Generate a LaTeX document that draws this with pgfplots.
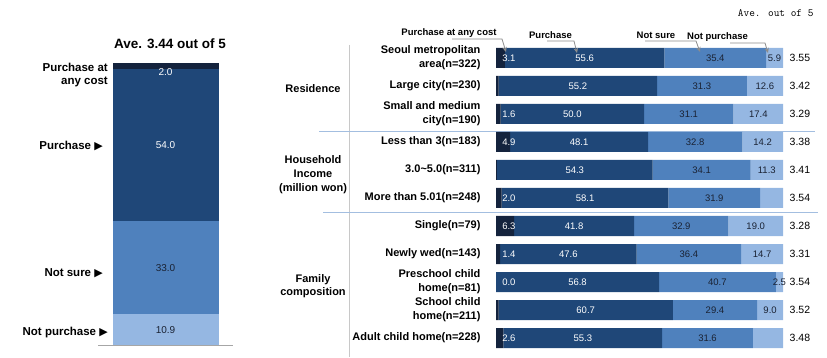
\documentclass[border=0pt]{standalone}
\usepackage{pgfplots}
\pgfplotsset{compat=1.18}
\usepackage{pgfplotstable}
\usepackage{fontspec}
\setmainfont{Liberation Sans}
\newfontfamily\symfont{DejaVu Sans}
\usetikzlibrary{arrows.meta}
\definecolor{cAny}{HTML}{14233D}
\definecolor{cPur}{HTML}{1F4778}
\definecolor{cSure}{HTML}{4F81BD}
\definecolor{cNot}{HTML}{95B7E2}
\definecolor{cTxt}{HTML}{1A2233}
\definecolor{cSep}{HTML}{A3BEE0}
\definecolor{cVl}{HTML}{C8C8C8}
\definecolor{cArr}{HTML}{8C8C8C}

\pgfplotstableread{
row a b c d la lb lc ld avg
0 3.1 55.6 35.4 5.9 3.1 55.6 35.4 5.9 3.55
1 0.9 55.2 31.3 12.6 {} 55.2 31.3 12.6 3.42
2 1.6 50.0 31.1 17.4 1.6 50.0 31.1 17.4 3.29
3 4.9 48.1 32.8 14.2 4.9 48.1 32.8 14.2 3.38
4 0.3 54.3 34.1 11.3 {} 54.3 34.1 11.3 3.41
5 2.0 58.1 31.9 8.0 2.0 58.1 31.9 {} 3.54
6 6.3 41.8 32.9 19.0 6.3 41.8 32.9 19.0 3.28
7 1.4 47.6 36.4 14.7 1.4 47.6 36.4 14.7 3.31
8 0.0 56.8 40.7 2.5 0.0 56.8 40.7 2.5 3.54
9 0.9 60.7 29.4 9.0 {} 60.7 29.4 9.0 3.52
10 2.6 55.3 31.6 10.5 2.6 55.3 31.6 {} 3.48
}\rightdata

\begin{document}
\begin{tikzpicture}
\path[use as bounding box] (0,0) rectangle (827pt,358pt);

% separators and vertical line (behind bars)
\draw[cVl, line width=0.8pt] (349pt,313pt) -- (349pt,1pt);
\draw[cSep, line width=0.8pt] (319pt,227pt) -- (815pt,227pt);
\draw[cSep, line width=0.8pt] (323pt,146pt) -- (818pt,146pt);

% ---------------- left chart ----------------
\begin{axis}[at={(98pt,13pt)}, anchor=south west, scale only axis,
  width=135pt, height=282pt, ybar stacked, bar width=106pt,
  xmin=-1, xmax=1, ymin=0, ymax=100, hide axis, clip=false]
\addplot[fill=cNot, draw=none] coordinates {(0,10.9)};
\addplot[fill=cSure, draw=none] coordinates {(0,33.0)};
\addplot[fill=cPur, draw=none] coordinates {(0,54.0)};
\addplot[fill=cAny, draw=none] coordinates {(0,2.0)};
\end{axis}
\begin{axis}[at={(98pt,13pt)}, anchor=south west, scale only axis,
  width=135pt, height=282pt, xmin=-1, xmax=1, ymin=0, ymax=100,
  hide axis, clip=false, nodes near coords, point meta=explicit symbolic,
  every node near coord/.append style={anchor=center, font=\fontsize{10}{11}\selectfont}]
\addplot[draw=none, mark=none, nodes near coords style={text=cTxt}]
  coordinates {(0,5.45) [10.9] (0,27.4) [33.0]};
\addplot[draw=none, mark=none, nodes near coords style={text=white}]
  coordinates {(0,70.9) [54.0] (0,96.8) [2.0]};
\end{axis}
\draw[gray!70, line width=0.8pt] (98pt,12.5pt) -- (233pt,12.5pt);

\node[font=\bfseries\fontsize{13.5}{16}\selectfont] at (170pt,314pt) {Ave. 3.44 out of 5};
\node[font=\bfseries\fontsize{11.5}{13}\selectfont, anchor=east, align=right, inner sep=0pt]
  at (108pt,282.5pt) {Purchase at\\any cost};
\node[font=\bfseries\fontsize{11.5}{13}\selectfont, anchor=east, inner sep=0pt]
  at (103pt,212pt) {Purchase {\symfont\fontsize{11}{12}\selectfont ▶}};
\node[font=\bfseries\fontsize{11.5}{13}\selectfont, anchor=east, inner sep=0pt]
  at (103pt,85pt) {Not sure {\symfont\fontsize{11}{12}\selectfont ▶}};
\node[font=\bfseries\fontsize{11.5}{13}\selectfont, anchor=east, inner sep=0pt]
  at (108pt,25pt) {Not purchase {\symfont\fontsize{11}{12}\selectfont ▶}};

% ---------------- right chart ----------------
\begin{axis}[at={(496pt,6pt)}, anchor=south west, scale only axis,
  width=287pt, height=308pt, xbar stacked, bar width=20pt,
  xmin=0, xmax=100, ymin=-0.5, ymax=10.5, y dir=reverse,
  axis line style={draw=none}, tick style={draw=none},
  xtick=\empty, ytick={0,...,10},
  yticklabels={{Seoul metropolitan\\area(n=322)},{Large city(n=230)},
    {Small and medium\\city(n=190)},{Less than 3(n=183)},
    {3.0\textasciitilde 5.0(n=311)},{More than 5.01(n=248)},
    {Single(n=79)},{Newly wed(n=143)},{Preschool child\\home(n=81)},
    {School child\\home(n=211)},{Adult child home(n=228)}},
  yticklabel style={font=\bfseries\fontsize{11}{14}\selectfont, align=right,
    anchor=east, xshift=-12pt}]
\addplot[fill=cAny, draw=none] table[x=a, y=row]{\rightdata};
\addplot[fill=cPur, draw=none] table[x=b, y=row]{\rightdata};
\addplot[fill=cSure, draw=none] table[x=c, y=row]{\rightdata};
\addplot[fill=cNot, draw=none] table[x=d, y=row]{\rightdata};
\end{axis}
\begin{axis}[at={(496pt,6pt)}, anchor=south west, scale only axis,
  width=287pt, height=308pt, xmin=0, xmax=100, ymin=-0.5, ymax=10.5,
  y dir=reverse, hide axis, clip=false,
  nodes near coords, point meta=explicit symbolic,
  every node near coord/.append style={anchor=center, font=\fontsize{9.5}{11}\selectfont}]
\addplot[draw=none, mark=none, nodes near coords style={text=white}]
  table[x expr=4.5, y=row, meta=la]{\rightdata};
\addplot[draw=none, mark=none, nodes near coords style={text=white}]
  table[x expr=\thisrow{a}+\thisrow{b}/2, y=row, meta=lb]{\rightdata};
\addplot[draw=none, mark=none, nodes near coords style={text=cTxt}]
  table[x expr=\thisrow{a}+\thisrow{b}+\thisrow{c}/2, y=row, meta=lc]{\rightdata};
\addplot[draw=none, mark=none, nodes near coords style={text=cTxt}]
  table[x expr=\thisrow{a}+\thisrow{b}+\thisrow{c}+\thisrow{d}/2, y=row, meta=ld]{\rightdata};
\addplot[draw=none, mark=none, nodes near coords style={text=black, font=\fontsize{10.5}{12}\selectfont}]
  table[x expr=105.9, y=row, meta=avg]{\rightdata};
\end{axis}

% group labels
\node[font=\bfseries\fontsize{11}{14}\selectfont, align=center] at (313pt,269pt) {Residence};
\node[font=\bfseries\fontsize{11}{14}\selectfont, align=center] at (313pt,183pt) {Household\\Income\\(million won)};
\node[font=\bfseries\fontsize{11}{13}\selectfont, align=center] at (313pt,71.5pt) {Family\\composition};

% annotations
\node[font=\bfseries\fontsize{9.5}{10}\selectfont] at (449pt,325pt) {Purchase at any cost};
\node[font=\bfseries\fontsize{9.5}{10}\selectfont] at (550.5pt,323pt) {Purchase};
\node[font=\bfseries\fontsize{9.5}{10}\selectfont] at (656pt,323pt) {Not sure};
\node[font=\bfseries\fontsize{9.5}{10}\selectfont] at (717.5pt,321pt) {Not purchase};
\begin{scope}[cArr, line width=0.8pt, -{Stealth[length=5pt,width=4.5pt]}]
\draw (452pt,319pt) -- (502pt,319pt) -- (506pt,306pt);
\draw (547pt,317pt) -- (574pt,317pt) -- (577pt,305pt);
\draw (645pt,317pt) -- (696pt,317pt) -- (700pt,306pt);
\draw (730pt,315pt) -- (765pt,315pt) -- (768pt,305pt);
\end{scope}

\node[font=\ttfamily\fontsize{11}{12}\selectfont, anchor=east] at (817pt,345pt) {Ave. out of 5};
\end{tikzpicture}
\end{document}
